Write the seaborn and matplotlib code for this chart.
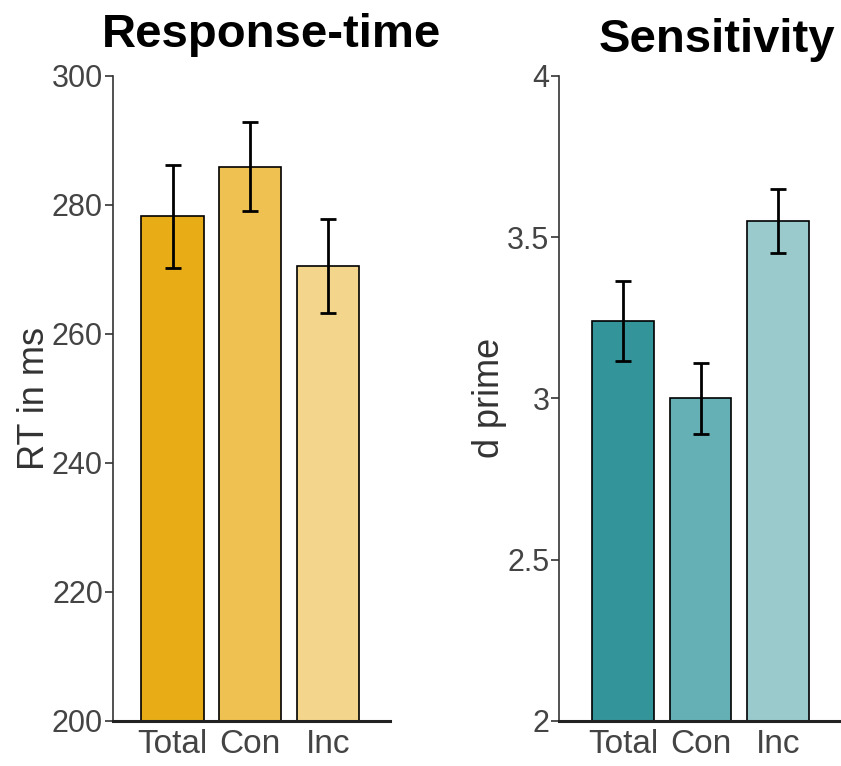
import matplotlib
matplotlib.use("Agg")
import matplotlib.pyplot as plt
import seaborn as sns

# data
conditions = ["Total", "Con", "Inc"]
rt_mean = [278.2, 285.9, 270.5]
rt_err = [8.0, 6.9, 7.3]
dprime_mean = [3.24, 3.00, 3.55]
dprime_err = [0.125, 0.11, 0.10]

rt_colors = ["#E8AD16", "#EFC150", "#F3D68C"]
dp_colors = ["#33949A", "#65B0B4", "#9BCACD"]

sns.set_style("white")
plt.rcParams["font.family"] = ["Liberation Sans", "DejaVu Sans"]

fig = plt.figure(figsize=(8.41, 7.66), dpi=100)
ax1 = fig.add_axes([0.134, 0.059, 0.330, 0.842])
ax2 = fig.add_axes([0.665, 0.059, 0.335, 0.842])


def draw(ax, means, errs, colors, ylim, yticks, yticklabels, ylabel):
    sns.barplot(x=conditions, y=means, hue=conditions, palette=colors, legend=False,
                width=0.8, saturation=1, edgecolor="black", linewidth=1.2, ax=ax)
    ax.errorbar(x=range(len(conditions)), y=means, yerr=errs, fmt="none",
                ecolor="black", elinewidth=2, capsize=6, capthick=2)
    ax.set_ylim(*ylim)
    ax.set_yticks(yticks)
    ax.set_yticklabels(yticklabels)
    ax.set_ylabel(ylabel, fontsize=26, color="#333333", labelpad=0)
    sns.despine(ax=ax)
    ax.spines["left"].set_color("#333333")
    ax.spines["left"].set_linewidth(1.2)
    ax.spines["bottom"].set_color("#222222")
    ax.spines["bottom"].set_linewidth(2.2)
    ax.tick_params(axis="y", direction="out", length=6, width=1.2, color="#333333",
                   labelsize=22, labelcolor="#444444", pad=1, left=True)
    ax.tick_params(axis="x", length=0, labelsize=24, labelcolor="#444444", pad=6)


draw(ax1, rt_mean, rt_err, rt_colors, (200, 300),
     [200, 220, 240, 260, 280, 300], ["200", "220", "240", "260", "280", "300"], "RT in ms")
ax1.set_xlim(-0.77, 2.8)

draw(ax2, dprime_mean, dprime_err, dp_colors, (2, 4),
     [2, 2.5, 3, 3.5, 4], ["2", "2.5", "3", "3.5", "4"], "d prime")
ax2.set_xlim(-0.83, 2.82)

fig.text(0.323, 0.954, "Response-time", ha="center", va="center",
         fontsize=34, fontweight="bold", color="black")
fig.text(0.853, 0.948, "Sensitivity", ha="center", va="center",
         fontsize=34, fontweight="bold", color="black")

fig.savefig("out.png", dpi=100)
